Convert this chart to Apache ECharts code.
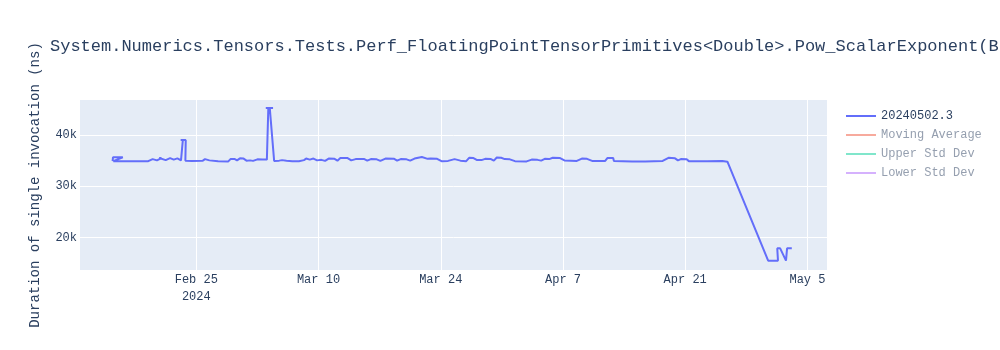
<!DOCTYPE html>
<html>
<head>
<meta charset="utf-8">
<script src="https://cdn.jsdelivr.net/npm/echarts@6/dist/echarts.min.js"></script>
<style>
html,body{margin:0;padding:0;background:#fff;}
#chart{width:1000px;height:350px;}
</style>
</head>
<body>
<div id="chart"></div>
<script>
const titleText = 'System.Numerics.Tensors.Tests.Perf_FloatingPointTensorPrimitives<Double>.Pow_ScalarExponent(BufferLength: 128)';
const yAxisTitle = 'Duration of single invocation (ns)';
const seriesNames = ['20240502.3', 'Moving Average', 'Upper Std Dev', 'Lower Std Dev'];
const xTickDates = ['2024-02-25 00:00', '2024-03-10 00:00', '2024-03-24 00:00', '2024-04-07 00:00', '2024-04-21 00:00', '2024-05-05 00:00'];
const yTickValues = [20000, 30000, 40000];
const xRange = ['2024-02-11 16:20', '2024-05-07 05:45'];
const yRange = [13680, 46820];

const runTimes = [
  '2024-02-15 10:00','2024-02-15 11:00','2024-02-16 14:00','2024-02-15 12:00','2024-02-16 14:00',
  '2024-02-19 12:00','2024-02-20 00:00','2024-02-20 12:00','2024-02-21 00:00','2024-02-20 18:00',
  '2024-02-21 12:00','2024-02-22 00:00','2024-02-22 10:00','2024-02-22 20:00','2024-02-23 06:00',
  '2024-02-23 11:00','2024-02-23 05:00','2024-02-23 19:00','2024-02-23 14:00','2024-02-23 18:00',
  '2024-02-24 12:00','2024-02-25 18:00','2024-02-26 00:00','2024-02-26 12:00','2024-02-27 12:00',
  '2024-02-28 16:00','2024-02-28 22:00','2024-02-29 10:00','2024-02-29 16:00','2024-03-01 00:00',
  '2024-03-01 10:00','2024-03-01 18:00','2024-03-02 04:00','2024-03-02 12:00','2024-03-03 00:00',
  '2024-03-03 14:00','2024-03-04 02:00','2024-03-04 06:00','2024-03-03 23:00','2024-03-04 19:00',
  '2024-03-04 10:00','2024-03-04 22:00','2024-03-05 12:00','2024-03-05 20:00','2024-03-06 08:00',
  '2024-03-07 00:00','2024-03-07 18:00','2024-03-08 08:00','2024-03-08 14:00','2024-03-09 00:00',
  '2024-03-09 10:00','2024-03-09 20:00','2024-03-10 08:00','2024-03-10 18:00','2024-03-11 04:00',
  '2024-03-11 20:00','2024-03-12 04:00','2024-03-12 12:00','2024-03-13 08:00','2024-03-13 18:00',
  '2024-03-14 06:00','2024-03-15 06:00','2024-03-15 14:00','2024-03-16 00:00','2024-03-16 16:00',
  '2024-03-17 02:00','2024-03-17 16:00','2024-03-18 16:00','2024-03-19 00:00','2024-03-19 10:00',
  '2024-03-20 02:00','2024-03-20 12:00','2024-03-21 00:00','2024-03-21 20:00','2024-03-22 12:00',
  '2024-03-22 20:00','2024-03-23 14:00','2024-03-24 02:00','2024-03-24 20:00','2024-03-25 14:00',
  '2024-03-26 06:00','2024-03-26 22:00','2024-03-27 06:00','2024-03-27 18:00','2024-03-28 04:00',
  '2024-03-28 16:00','2024-03-29 02:00','2024-03-29 18:00','2024-03-30 02:00','2024-03-30 10:00',
  '2024-03-30 22:00','2024-03-31 08:00','2024-03-31 22:00','2024-04-01 12:00','2024-04-02 20:00',
  '2024-04-03 10:00','2024-04-04 02:00','2024-04-04 12:00','2024-04-04 22:00','2024-04-05 10:00',
  '2024-04-05 20:00','2024-04-06 16:00','2024-04-07 04:00','2024-04-08 14:00','2024-04-09 04:00',
  '2024-04-09 18:00','2024-04-10 08:00','2024-04-11 20:00','2024-04-12 02:00','2024-04-12 18:00',
  '2024-04-12 20:00','2024-04-14 22:00','2024-04-16 10:00','2024-04-18 10:00','2024-04-19 02:00',
  '2024-04-19 20:00','2024-04-20 04:00','2024-04-20 12:00','2024-04-21 04:00','2024-04-21 10:00',
  '2024-04-23 12:00','2024-04-25 06:00','2024-04-25 20:00','2024-04-30 12:00','2024-05-01 15:00',
  '2024-05-01 13:00','2024-05-01 21:00','2024-05-02 13:00','2024-05-02 16:00','2024-05-03 05:00'
];
const durations = [
  34900,35650,35650,34900,34900,
  34900,35300,35050,35500,35500,
  35100,35500,35200,35450,35050,
  39000,39000,39000,39000,35000,
  34950,35000,35300,35050,34900,
  34850,35300,35300,35050,35450,
  35400,35000,35050,34950,35250,
  35200,35200,45250,45250,45250,
  45250,34950,35000,35100,35000,
  34900,34900,35100,35400,35200,
  35400,35050,35150,34950,35400,
  35350,35000,35500,35500,35050,
  35300,35300,35000,35300,35250,
  34950,35400,35350,35000,35300,
  35250,35000,35400,35700,35350,
  35400,35350,34900,34950,35300,
  35000,34900,35550,35500,35100,
  35100,35350,35300,35000,35600,
  35550,35300,35250,34900,34850,
  35200,35150,35000,35350,35300,
  35550,35500,35050,34950,35400,
  35350,34950,34950,35500,35500,
  34950,34850,34850,34950,35550,
  35450,35050,35300,35250,34900,
  34900,34950,34800,15500,15500,
  17900,17900,15500,17900,17900
];
const movingAverage = [];
const upperStdDev = [];
const lowerStdDev = [];

const seriesColors = ['#636efa', '#EF553B', '#00cc96', '#ab63fa'];
const fadedColors = ['#636efa', '#f7aa9d', '#80e6cb', '#d5b1fd'];
const FONT = "'Liberation Mono', 'Courier New', Courier, monospace";
const TEXT = '#2a3f5f';
const FADED_TEXT = '#959faf';
const MONTHS = ['Jan','Feb','Mar','Apr','May','Jun','Jul','Aug','Sep','Oct','Nov','Dec'];

function toTime(s) {
  const m = s.match(/(\d+)-(\d+)-(\d+) (\d+):(\d+)/);
  return Date.UTC(+m[1], +m[2] - 1, +m[3], +m[4], +m[5]);
}

const mainData = runTimes.map((t, i) => [toTime(t), durations[i]]);
const xTickValues = xTickDates.map(toTime);

const chart = echarts.init(document.getElementById('chart'), null, {renderer: 'canvas'});
chart.setOption({
  animation: false,
  backgroundColor: '#fff',
  title: {
    text: titleText,
    left: 45,
    top: 33,
    textStyle: {fontFamily: FONT, fontSize: 17, fontWeight: 'normal', color: TEXT}
  },
  legend: {
    orient: 'vertical',
    left: 841,
    top: 105,
    itemWidth: 30,
    itemHeight: 2,
    itemGap: 7,
    icon: 'rect',
    textStyle: {fontFamily: FONT, fontSize: 12, color: TEXT},
    data: seriesNames.map((n, i) => i === 0 ? {name: n} : {
      name: n,
      itemStyle: {color: fadedColors[i]},
      textStyle: {color: FADED_TEXT}
    })
  },
  grid: {
    left: 80, top: 100, width: 747, height: 170,
    show: true, backgroundColor: '#E5ECF6', borderWidth: 0,
    containLabel: false, outerBoundsMode: 'none'
  },
  xAxis: {
    type: 'value',
    min: toTime(xRange[0]),
    max: toTime(xRange[1]),
    axisLine: {show: false},
    axisTick: {show: false, customValues: xTickValues},
    splitLine: {show: true, lineStyle: {color: '#fff', width: 1}},
    axisLabel: {
      customValues: xTickValues,
      fontFamily: FONT, fontSize: 12, color: TEXT, margin: 1, lineHeight: 17,
      formatter: function (v) {
        const d = new Date(v);
        let s = MONTHS[d.getUTCMonth()] + ' ' + d.getUTCDate();
        if (d.getUTCMonth() === 1 && d.getUTCDate() === 25) s += '\n' + d.getUTCFullYear();
        return s;
      }
    }
  },
  yAxis: {
    type: 'value',
    min: yRange[0],
    max: yRange[1],
    name: yAxisTitle,
    nameLocation: 'middle',
    nameGap: 38,
    nameTextStyle: {fontFamily: FONT, fontSize: 14, color: TEXT},
    axisLine: {show: false},
    axisTick: {show: false, customValues: yTickValues},
    splitLine: {show: true, lineStyle: {color: '#fff', width: 1}},
    axisLabel: {
      customValues: yTickValues,
      fontFamily: FONT, fontSize: 12, color: TEXT, margin: 3,
      formatter: function (v) { return Math.round(v / 1000) + 'k'; }
    }
  },
  series: [
    {name: seriesNames[0], type: 'line', data: mainData, showSymbol: false, symbol: 'none',
     color: seriesColors[0], lineStyle: {width: 2, color: seriesColors[0]}},
    {name: seriesNames[1], type: 'line', data: movingAverage, showSymbol: false, color: seriesColors[1]},
    {name: seriesNames[2], type: 'line', data: upperStdDev, showSymbol: false, color: seriesColors[2]},
    {name: seriesNames[3], type: 'line', data: lowerStdDev, showSymbol: false, color: seriesColors[3]}
  ]
});
</script>
</body>
</html>
